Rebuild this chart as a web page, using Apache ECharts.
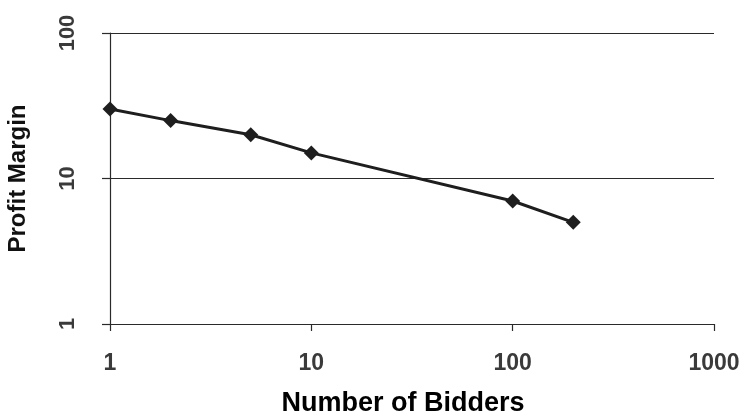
<!DOCTYPE html>
<html>
<head>
<meta charset="utf-8">
<script src="https://cdn.jsdelivr.net/npm/echarts@6/dist/echarts.min.js"></script>
<style>
  html, body { margin: 0; padding: 0; background: #ffffff; }
  #chart { width: 744px; height: 415px; }
</style>
</head>
<body>
<div id="chart"></div>
<script>
// Profit margin against number of bidders (log-log)
const bidders = [1, 2, 5, 10, 100, 200];
const profitMargin = [30, 25, 20, 15, 7, 5];
const xRange = [1, 1000];
const yRange = [1, 100];

const points = bidders.map((b, i) => [b, profitMargin[i]]);

const chart = echarts.init(document.getElementById('chart'), null, { renderer: 'canvas' });

const axisLineStyle = { color: '#2a2a2a', width: 1.2 };
const plainNumber = (v) => String(Math.round(v));

chart.setOption({
  backgroundColor: '#ffffff',
  animation: false,
  grid: {
    left: 110, right: 30, top: 33, bottom: 91,
    containLabel: false,
    outerBoundsMode: 'none'
  },
  xAxis: {
    type: 'log',
    logBase: 10,
    min: xRange[0],
    max: xRange[1],
    name: 'Number of Bidders',
    nameLocation: 'middle',
    nameGap: 66,
    nameTextStyle: {
      fontFamily: 'Liberation Sans, Arial, sans-serif',
      fontWeight: 'bold',
      fontSize: 27,
      color: '#000000',
      padding: [0, 18, 0, 0]
    },
    axisLine: { show: true, lineStyle: axisLineStyle },
    axisTick: { show: true, length: 7, lineStyle: axisLineStyle },
    minorTick: { show: false },
    splitLine: { show: false },
    axisLabel: {
      margin: 28,
      formatter: plainNumber,
      fontFamily: 'Liberation Sans, Arial, sans-serif',
      fontWeight: 'bold',
      fontSize: 23,
      color: '#3a3a3a'
    }
  },
  yAxis: {
    type: 'log',
    logBase: 10,
    min: yRange[0],
    max: yRange[1],
    name: 'Profit Margin',
    nameLocation: 'middle',
    nameRotate: 90,
    nameGap: 80,
    nameTextStyle: {
      fontFamily: 'Liberation Sans, Arial, sans-serif',
      fontWeight: 'bold',
      fontSize: 24,
      color: '#111111'
    },
    axisLine: { show: true, lineStyle: axisLineStyle },
    axisTick: { show: true, length: 8, lineStyle: axisLineStyle },
    minorTick: { show: false },
    splitLine: { show: true, lineStyle: { color: '#2a2a2a', width: 1.2 } },
    axisLabel: {
      rotate: 90,
      margin: 31,
      formatter: plainNumber,
      fontFamily: 'Liberation Sans, Arial, sans-serif',
      fontWeight: 'bold',
      fontSize: 22,
      color: '#3a3a3a'
    }
  },
  series: [{
    type: 'line',
    data: points,
    symbol: 'diamond',
    symbolSize: 15,
    lineStyle: { color: '#1e1e1e', width: 3 },
    itemStyle: { color: '#1e1e1e' }
  }]
});
</script>
</body>
</html>
